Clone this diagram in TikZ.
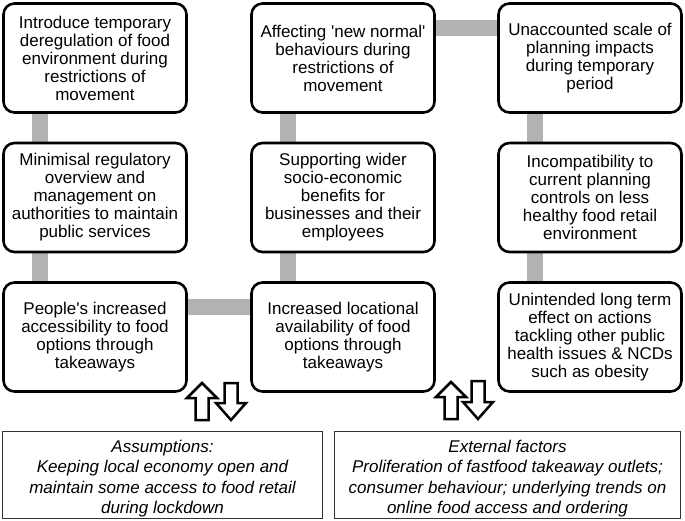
\documentclass[tikz,border=0pt]{standalone}
\usepackage{fontspec}
\setmainfont{Liberation Sans}
\usetikzlibrary{backgrounds}
\begin{document}
\begin{tikzpicture}[x=1pt,y=-1pt,
  stepbox/.style={draw=black, line width=2.6pt, rounded corners=11pt, fill=white,
    minimum width=183pt, minimum height=109pt, align=center, inner sep=2pt,
    font=\fontsize{17}{18}\selectfont},
  notebox/.style={draw=black!80, line width=1.1pt, fill=white, align=center,
    font=\fontsize{17}{20.5}\selectfont\itshape, inner sep=0pt},
  conn/.style={draw=black!30, line width=16pt},
  blockarrow/.style={draw=black, line width=2.5pt, fill=white, line join=miter}]
\useasboundingbox (0,0) rectangle (685,521);
% boxes
\node[stepbox] (a1) at (95,58) {Introduce temporary\\deregulation of food\\environment during\\restrictions of\\movement};
\node[stepbox] (a2) at (95,197.5) {Minimisal regulatory\\overview and\\management on\\authorities to maintain\\public services};
\node[stepbox] (a3) at (95,337) {People\textquotesingle s increased\\accessibility to food\\options through\\takeaways};
\node[stepbox] (b1) at (343,58) {Affecting \textquotesingle new normal\textquotesingle\\behaviours during\\restrictions of\\movement};
\node[stepbox] (b2) at (343,197.5) {Supporting wider\\socio-economic\\benefits for\\businesses and their\\employees};
\node[stepbox] (b3) at (343,337) {Increased locational\\availability of food\\options through\\takeaways};
\node[stepbox] (c1) at (590,58) {Unaccounted scale of\\planning impacts\\during temporary\\period};
\node[stepbox] (c2) at (590,197.5) {Incompatibility to\\current planning\\controls on less\\healthy food retail\\environment};
\node[stepbox] (c3) at (590,337) {Unintended long term\\effect on actions\\tackling other public\\health issues \& NCDs\\such as obesity};
% bottom notes
\node[notebox, minimum width=320pt, minimum height=87pt] (n1) at (162.5,475) {\rule{0pt}{20pt}Assumptions:\\Keeping local economy open and\\maintain some access to food retail\\during lockdown};
\node[notebox, minimum width=346pt, minimum height=87pt] (n2) at (507.5,475) {\rule{0pt}{20pt}External factors\\Proliferation of fastfood takeaway outlets;\\consumer behaviour; underlying trends on\\online food access and ordering};
% connectors
\begin{scope}[on background layer]
\draw[conn] ([xshift=38pt]a1.south west) -- ([xshift=38pt]a2.north west);
\draw[conn] ([xshift=38pt]a2.south west) -- ([xshift=38pt]a3.north west);
\draw[conn] ([xshift=38pt]b1.south west) -- ([xshift=38pt]b2.north west);
\draw[conn] ([xshift=38pt]b2.south west) -- ([xshift=38pt]b3.north west);
\draw[conn] ([xshift=38pt]c1.south west) -- ([xshift=38pt]c2.north west);
\draw[conn] ([xshift=38pt]c2.south west) -- ([xshift=38pt]c3.north west);
\draw[conn] ([yshift=-26pt]b1.north east) -- ([yshift=-26pt]c1.north west);
\draw[conn] ([yshift=-26pt]a3.north east) -- ([yshift=-26pt]b3.north west);
\end{scope}
% block arrows
\draw[blockarrow] (202,383) -- (217,398) -- (208.5,398) -- (208.5,420) -- (195.5,420) -- (195.5,398) -- (187,398) -- cycle;
\draw[blockarrow] (231,420) -- (246,403) -- (237.5,403) -- (237.5,383) -- (224.5,383) -- (224.5,403) -- (216,403) -- cycle;
\draw[blockarrow] (451,382) -- (466,397) -- (457.5,397) -- (457.5,419) -- (444.5,419) -- (444.5,397) -- (436,397) -- cycle;
\draw[blockarrow] (478,419) -- (493,402) -- (484.5,402) -- (484.5,381) -- (471.5,381) -- (471.5,402) -- (463,402) -- cycle;
\end{tikzpicture}
\end{document}
